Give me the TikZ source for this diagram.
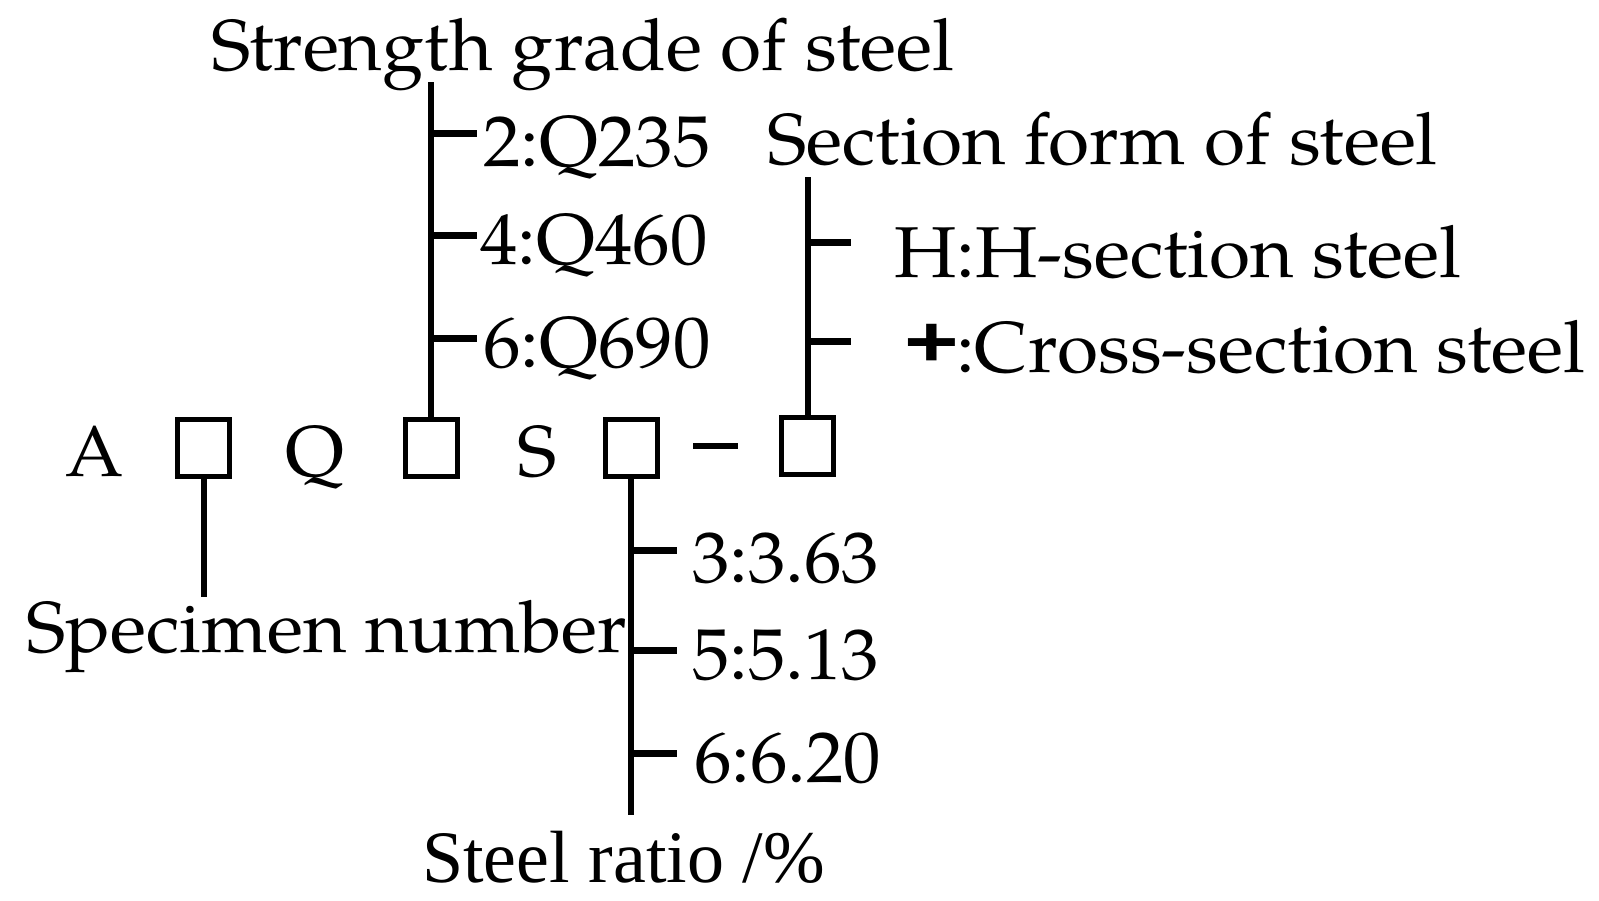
\documentclass[tikz,border=0pt]{standalone}
\usepackage{fontspec}
\setmainfont{TeX Gyre Pagella}
\newfontfamily\timesfont{Liberation Serif}
\newfontfamily\arialfont{Liberation Sans}
\begin{document}
\begin{tikzpicture}[x=1pt,y=1pt,
  lbl/.style={inner sep=0,anchor=base west,font=\fontsize{72}{80}\selectfont,xscale=1.04,transform shape},
  sbox/.style={draw,line width=5pt,minimum width=52pt,minimum height=57pt,inner sep=0},
  stem/.style={line width=6pt},
  tick/.style={line width=7pt}]
\useasboundingbox (0,0) rectangle (1599,900);
% letters and boxes
\node[lbl] (A) at (65,423) {A};
\node[sbox] (b1) at (203.5,452) {};
\node[lbl] (Q) at (285,423) {Q};
\node[sbox] (b2) at (431,452) {};
\node[lbl] (S) at (517,423) {S};
\node[sbox] (b3) at (631,452) {};
\node[fill,minimum width=45pt,minimum height=6pt,inner sep=0] (dash) at (715.5,454) {};
\node[sbox] (b4) at (807.5,454) {};
% specimen number
\coordinate (e1) at (203.5,303);
\draw[stem] (b1.south) -- (e1);
\node[lbl] (spec) at (26,247) {Specimen number};
% strength grade
\coordinate (e2) at (431,818);
\draw[stem] (b2.north) -- (e2);
\node[lbl] (sg) at (211,829) {Strength grade of steel};
\coordinate (g1) at (431,766); \coordinate (g1e) at (477,766);
\coordinate (g2) at (431,664); \coordinate (g2e) at (477,664);
\coordinate (g3) at (431,561); \coordinate (g3e) at (477,561);
\draw[tick] (g1) -- (g1e);
\draw[tick] (g2) -- (g2e);
\draw[tick] (g3) -- (g3e);
\node[lbl] (q235) at (483,733) {2:Q235};
\node[lbl] (q460) at (480,635) {4:Q460};
\node[lbl] (q690) at (483,532) {6:Q690};
% section form
\coordinate (e4) at (807.5,723);
\draw[stem] (b4.north) -- (e4);
\node[lbl] (sf) at (767,735) {Section form of steel};
\coordinate (h1) at (807.5,657); \coordinate (h1e) at (851,657);
\coordinate (h2) at (807.5,558); \coordinate (h2e) at (851,558);
\draw[tick] (h1) -- (h1e);
\draw[tick] (h2) -- (h2e);
\node[lbl] (hs) at (894,622) {H:H-section steel};
\node[inner sep=0,anchor=base,font=\arialfont\bfseries\fontsize{72}{80}\selectfont,xscale=1.3,transform shape] (plus) at (932,533) {+};
\node[lbl] (cs) at (956,527) {:Cross-section steel};
% steel ratio
\coordinate (e3) at (631,85);
\draw[stem] (b3.south) -- (e3);
\coordinate (r1) at (631,349); \coordinate (r1e) at (677,349);
\coordinate (r2) at (631,249); \coordinate (r2e) at (677,249);
\coordinate (r3) at (631,146); \coordinate (r3e) at (677,146);
\draw[tick] (r1) -- (r1e);
\draw[tick] (r2) -- (r2e);
\draw[tick] (r3) -- (r3e);
\node[lbl] (v1) at (692,317) {3:3.63};
\node[lbl] (v2) at (692,220) {5:5.13};
\node[lbl] (v3) at (694,117) {6:6.20};
\node[inner sep=0,anchor=base west,font=\timesfont\fontsize{74}{80}\selectfont] (sr) at (422,17) {Steel ratio /\%};
\end{tikzpicture}
\end{document}
